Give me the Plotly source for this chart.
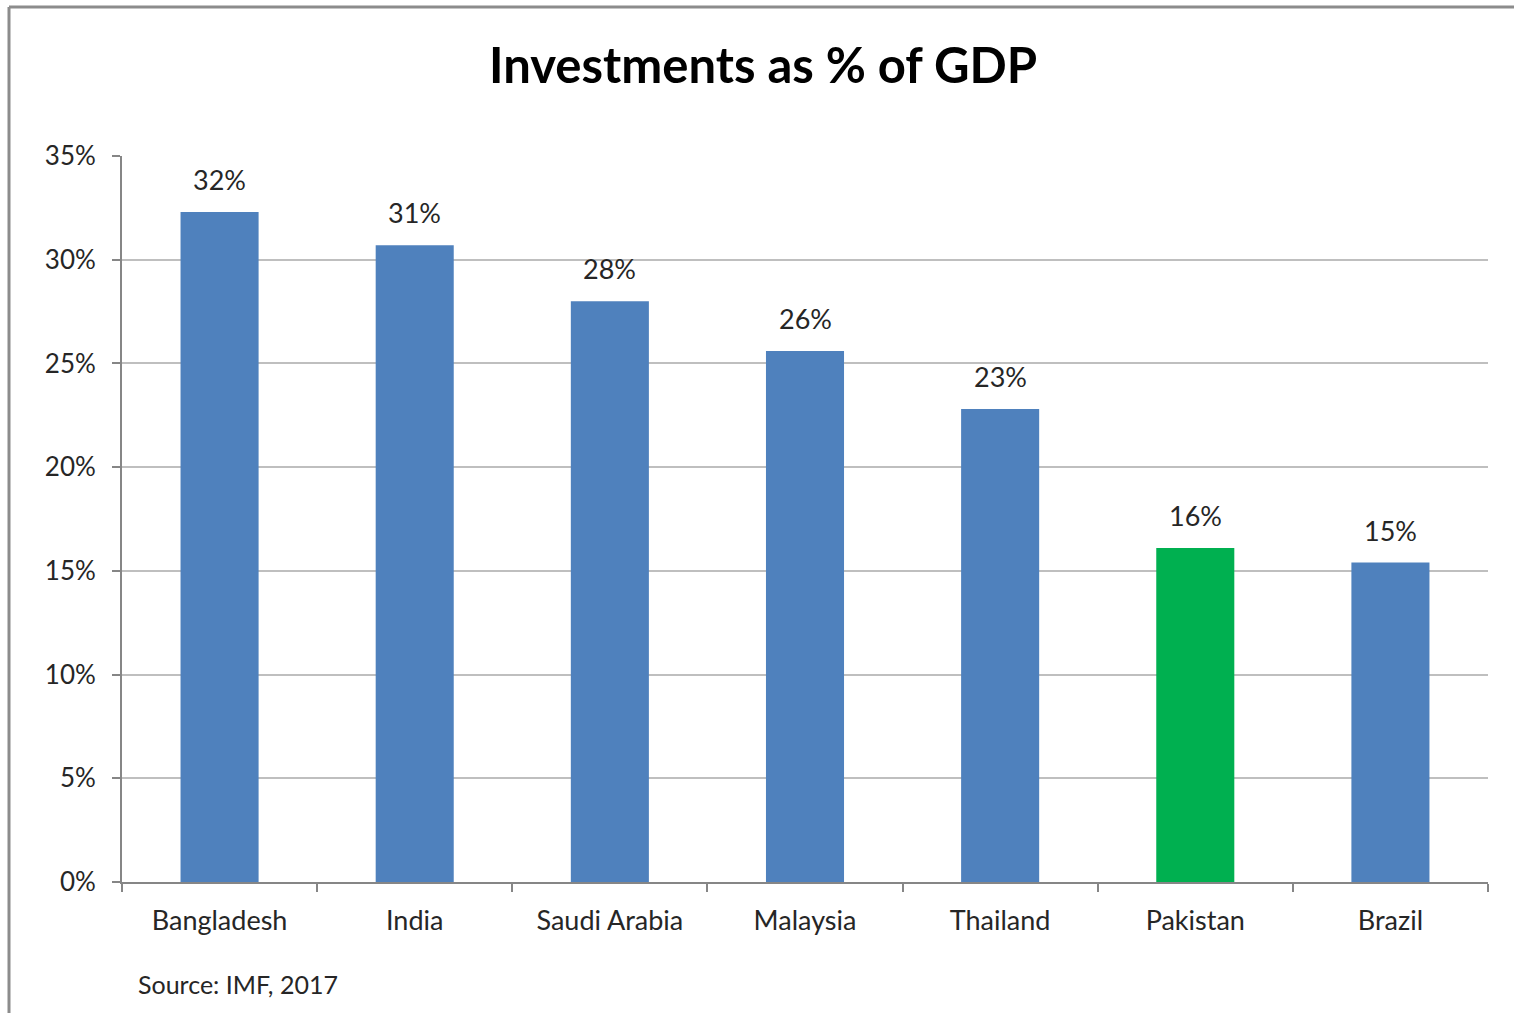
import plotly.graph_objects as go

# Gross investment as a share of GDP, 2017
countries = ["Bangladesh", "India", "Saudi Arabia", "Malaysia", "Thailand", "Pakistan", "Brazil"]
investment_pct = [32.3, 30.7, 28.0, 25.6, 22.8, 16.1, 15.4]
bar_colors = ["#4F81BD", "#4F81BD", "#4F81BD", "#4F81BD", "#4F81BD", "#00B050", "#4F81BD"]
y_ticks = [0, 5, 10, 15, 20, 25, 30, 35]
y_tick_labels = [f"{t}%" for t in y_ticks]

FONT = "Lato, 'Open Sans', sans-serif"
TEXT = "#262626"

fig = go.Figure(
    go.Bar(
        x=countries,
        y=investment_pct,
        marker=dict(color=bar_colors, line=dict(width=0)),
        width=0.4,
        hoverinfo="skip",
    )
)

# Value labels above each bar, rounded to whole percent
for c, v in zip(countries, investment_pct):
    fig.add_annotation(
        x=c, y=v, text=f"{v:.0f}%", showarrow=False,
        yanchor="bottom", yshift=14,
        font=dict(family=FONT, size=27, color=TEXT),
    )

# Source note below the axis
fig.add_annotation(
    xref="paper", yref="paper", x=(136 - 122) / 1366, y=(882 - 984) / 726,
    xanchor="left", yanchor="middle", showarrow=False,
    text="Source: IMF, 2017",
    font=dict(family=FONT, size=25, color=TEXT),
)

# Outer chart frame (left and top edges)
frame_x = (9 - 122) / 1366
frame_y = (882 - 7) / 726
fig.add_shape(type="line", xref="paper", yref="paper",
              x0=frame_x, x1=frame_x, y0=frame_y, y1=-0.3,
              line=dict(color="#8C8C8C", width=3))
fig.add_shape(type="line", xref="paper", yref="paper",
              x0=frame_x, x1=1.05, y0=frame_y, y1=frame_y,
              line=dict(color="#8C8C8C", width=3))

fig.update_layout(
    width=1514, height=1013,
    margin=dict(l=122, r=26, t=156, b=131),
    paper_bgcolor="white", plot_bgcolor="white",
    showlegend=False,
    title=dict(
        text="<b>Investments as % of GDP</b>",
        x=0.504, xanchor="center", xref="container",
        y=1 - 66 / 1013, yanchor="middle", yref="container",
        font=dict(family=FONT, size=49, color="black"),
    ),
    xaxis=dict(
        range=[-0.5, 6.5],
        showline=True, linecolor="#868686", linewidth=2,
        ticks="outside", tickson="boundaries", ticklen=8, tickwidth=2, tickcolor="#868686",
        ticklabelstandoff=14,
        tickfont=dict(family=FONT, size=27, color=TEXT),
        showgrid=False, zeroline=False,
    ),
    yaxis=dict(
        range=[0, 35], tickvals=y_ticks, ticktext=y_tick_labels,
        showline=True, linecolor="#868686", linewidth=2,
        ticks="outside", ticklen=8, tickwidth=2, tickcolor="#868686",
        ticklabelstandoff=11,
        tickfont=dict(family=FONT, size=26, color=TEXT),
        showgrid=True, gridcolor="#BFBFBF", gridwidth=2,
        zeroline=False,
    ),
)

fig.write_html("out.html")
